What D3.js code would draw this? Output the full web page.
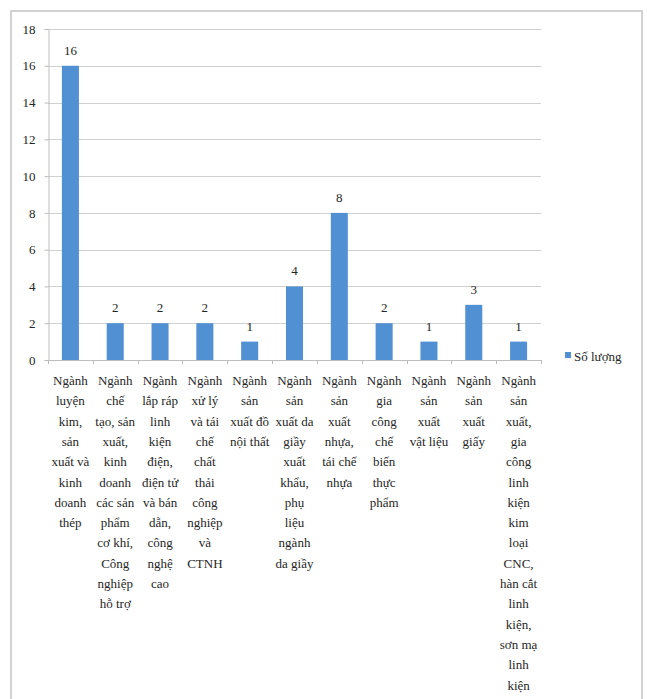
<!DOCTYPE html>
<html>
<head>
<meta charset="utf-8">
<script src="https://cdn.jsdelivr.net/npm/d3@7"></script>
<style>
  html, body { margin: 0; padding: 0; background: #fff; }
  svg { display: block; }
</style>
</head>
<body>
<svg id="chart" width="647" height="699"></svg>
<script>
// Industry categories, each split into the lines shown under its bar
const categoryLines = [
  ["Ngành", "luyện", "kim,", "sản", "xuất và", "kinh", "doanh", "thép"],
  ["Ngành", "chế", "tạo, sản", "xuất,", "kinh", "doanh", "các sản", "phẩm", "cơ khí,", "Công", "nghiệp", "hỗ trợ"],
  ["Ngành", "lắp ráp", "linh", "kiện", "điện,", "điện tử", "và bán", "dẫn,", "công", "nghệ", "cao"],
  ["Ngành", "xử lý", "và tái", "chế", "chất", "thải", "công", "nghiệp", "và", "CTNH"],
  ["Ngành", "sản", "xuất đồ", "nội thất"],
  ["Ngành", "sản", "xuất da", "giầy", "xuất", "khẩu,", "phụ", "liệu", "ngành", "da giầy"],
  ["Ngành", "sản", "xuất", "nhựa,", "tái chế", "nhựa"],
  ["Ngành", "gia", "công", "chế", "biến", "thực", "phẩm"],
  ["Ngành", "sản", "xuất", "vật liệu"],
  ["Ngành", "sản", "xuất", "giấy"],
  ["Ngành", "sản", "xuất,", "gia", "công", "linh", "kiện", "kim", "loại", "CNC,", "hàn cắt", "linh", "kiện,", "sơn mạ", "linh", "kiện"]
];
const categories = categoryLines.map(l => l.join(" "));
const soLuong = [16, 2, 2, 2, 1, 4, 8, 2, 1, 3, 1];
const yTicks = [0, 2, 4, 6, 8, 10, 12, 14, 16, 18];
const seriesName = "Số lượng";

const FONT = "'Liberation Serif', 'Times New Roman', 'DejaVu Serif', serif";
const TEXT_COLOR = "#262626";
const BAR_COLOR = "#5090d3";

const svg = d3.select("#chart")
  .attr("font-family", FONT)
  .style("font-family", FONT);

// Outer chart frame
svg.append("rect")
  .attr("x", 11).attr("y", 11)
  .attr("width", 631).attr("height", 720)
  .attr("fill", "#fff")
  .attr("stroke", "#d2d2d2").attr("stroke-width", 2);

const plot = { left: 48, right: 541, top: 29, bottom: 360 };

const x = d3.scaleBand()
  .domain(categories)
  .range([plot.left, plot.right])
  .paddingInner(0.62)
  .paddingOuter(0.31);

const y = d3.scaleLinear()
  .domain([0, 18])
  .range([plot.bottom, plot.top]);

// Horizontal gridlines
svg.append("g")
  .selectAll("line")
  .data(yTicks.filter(t => t > 0))
  .join("line")
  .attr("x1", plot.left).attr("x2", plot.right)
  .attr("y1", d => Math.round(y(d)) + 0.5).attr("y2", d => Math.round(y(d)) + 0.5)
  .attr("stroke", "#d0d0d0").attr("stroke-width", 1);

// Y axis
const yAxis = svg.append("g")
  .attr("transform", `translate(${plot.left + 0.5},0)`)
  .call(d3.axisLeft(y).tickValues(yTicks).tickSize(4).tickPadding(9).tickFormat(d3.format("d")));
yAxis.attr("font-family", null).attr("font-size", null);
yAxis.select(".domain").attr("stroke", "#bdbdbd");
yAxis.selectAll(".tick line").attr("stroke", "#bdbdbd");
yAxis.selectAll(".tick text")
  .attr("font-family", FONT)
  .style("font-family", FONT)
  .style("font-size", "13px")
  .attr("fill", TEXT_COLOR);

// Bars
svg.append("g")
  .selectAll("rect")
  .data(soLuong)
  .join("rect")
  .attr("x", (d, i) => x(categories[i]))
  .attr("y", d => y(d))
  .attr("width", x.bandwidth())
  .attr("height", d => y(0) - y(d))
  .attr("fill", BAR_COLOR);

// Value labels
svg.append("g")
  .selectAll("text")
  .data(soLuong)
  .join("text")
  .attr("x", (d, i) => x(categories[i]) + x.bandwidth() / 2)
  .attr("y", d => y(d) - 11)
  .attr("text-anchor", "middle")
  .attr("fill", TEXT_COLOR)
  .style("font-family", FONT)
  .style("font-size", "13px")
  .text(d => d);

// X axis line with ticks at category boundaries
const step = x.step();
svg.append("line")
  .attr("x1", plot.left).attr("x2", plot.right)
  .attr("y1", plot.bottom + 0.5).attr("y2", plot.bottom + 0.5)
  .attr("stroke", "#bdbdbd");
svg.append("g")
  .selectAll("line")
  .data(d3.range(categories.length + 1))
  .join("line")
  .attr("x1", i => Math.round(plot.left + i * step) + 0.5)
  .attr("x2", i => Math.round(plot.left + i * step) + 0.5)
  .attr("y1", plot.bottom).attr("y2", plot.bottom + 4)
  .attr("stroke", "#bdbdbd");

// Wrapped category labels
const labelG = svg.append("g");
categoryLines.forEach((lines, i) => {
  const cx = x(categories[i]) + x.bandwidth() / 2;
  const t = labelG.append("text")
    .attr("x", cx)
    .attr("y", 385)
    .attr("text-anchor", "middle")
    .attr("fill", TEXT_COLOR)
    .style("font-family", FONT)
    .style("font-size", "13px");
  lines.forEach((ln, j) => {
    t.append("tspan")
      .attr("x", cx)
      .attr("dy", j === 0 ? 0 : 20.3)
      .text(ln);
  });
});

// Legend
const legend = svg.append("g").attr("transform", "translate(565,352)");
legend.append("rect")
  .attr("width", 6).attr("height", 6)
  .attr("fill", BAR_COLOR);
legend.append("text")
  .attr("x", 9).attr("y", 9)
  .attr("fill", TEXT_COLOR)
  .style("font-family", FONT)
  .style("font-size", "13px")
  .text(seriesName);
</script>
</body>
</html>
